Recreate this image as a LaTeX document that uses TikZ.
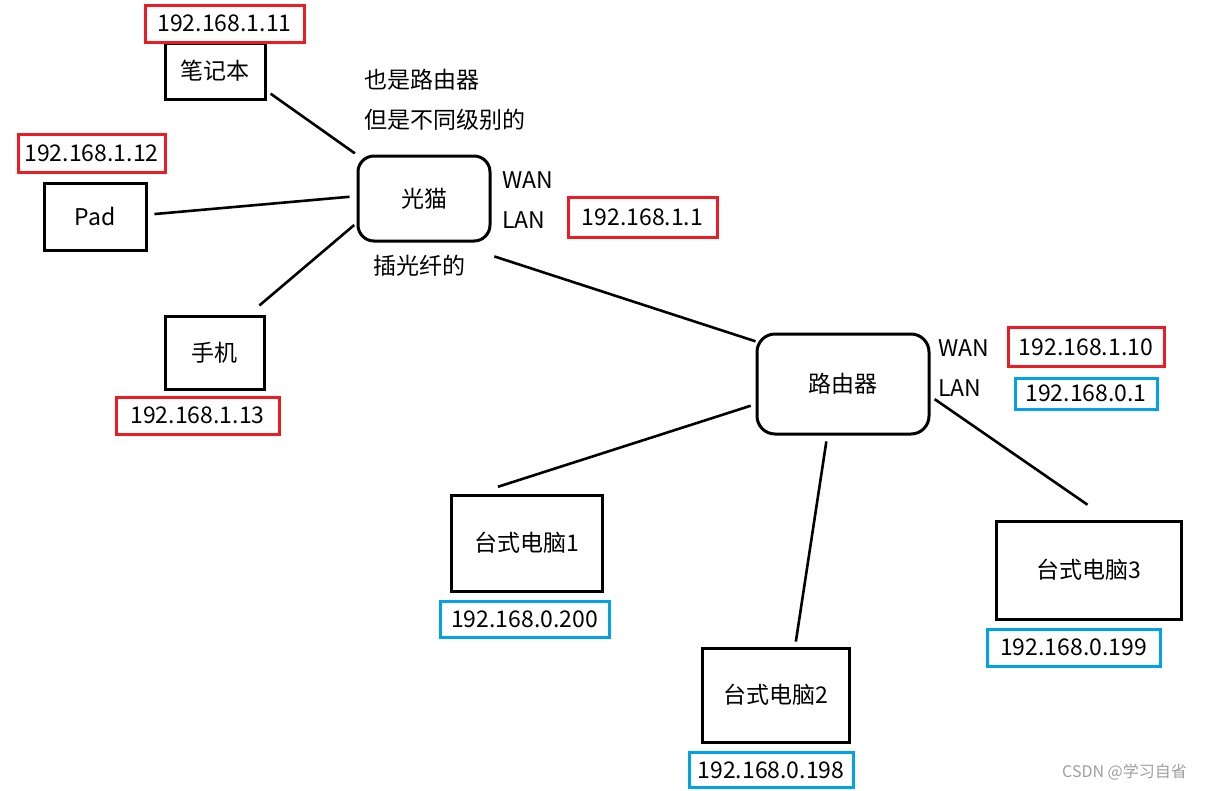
\documentclass[tikz,border=0pt]{standalone}
\usepackage{fontspec}
\setmainfont{Noto Sans CJK SC}
\definecolor{ipred}{HTML}{ED1C24}
\definecolor{ipblue}{HTML}{00A2E8}
\tikzset{
  dev/.style={draw, line width=3pt, inner sep=0pt},
  hub/.style={dev, rounded corners=16pt},
  ipbox/.style={draw=#1, line width=3pt, inner sep=0pt},
  link/.style={line width=2.6pt},
  lbl/.style={anchor=west, inner sep=0pt},
}
\begin{document}
\begin{tikzpicture}[x=1pt, y=-1pt, font=\fontsize{23}{28}\selectfont]
	\useasboundingbox (0,0) rectangle (1213,790);
	\fill[white] (0,0) rectangle (1213,790);
	% 光猫 side
	\node[hub, minimum width=132pt, minimum height=85pt] (gm) at (424,198.5) {光猫};
	\node[dev, minimum width=100pt, minimum height=56pt] (nb) at (215,71) {笔记本};
	\node[dev, minimum width=102pt, minimum height=67pt] (pad) at (95,216.5) {Pad};
	\node[dev, minimum width=99pt, minimum height=73pt] (sj) at (214.5,352.5) {手机};
	\node[lbl] (note1) at (364,80) {也是路由器};
	\node[lbl] (note2) at (364,120) {但是不同级别的};
	\node[lbl] (note3) at (373,266) {插光纤的};
	\node[lbl] (gmwan) at (502,180) {WAN};
	\node[lbl] (gmlan) at (502,220) {LAN};
	% 路由器 side
	\node[hub, minimum width=172pt, minimum height=100pt, rounded corners=18pt] (ly) at (843,384) {路由器};
	\node[lbl] (lywan) at (938,348) {WAN};
	\node[lbl] (lylan) at (938,388) {LAN};
	\node[dev, minimum width=151pt, minimum height=96pt] (tp1) at (526.5,543) {台式电脑1};
	\node[dev, minimum width=147pt, minimum height=94pt] (tp2) at (775.5,695) {台式电脑2};
	\node[dev, minimum width=185pt, minimum height=98pt] (tp3) at (1088.5,570) {台式电脑3};
	% addresses
	\foreach \n/\x/\y/\w/\h/\c/\t in {ip11/224.5/23.5/159/37/ipred/192.168.1.11,
		ip12/91.5/153/147/38/ipred/192.168.1.12,
		ip1/642.5/217/149/40/ipred/192.168.1.1,
		ip13/197.5/415.5/163/37/ipred/192.168.1.13,
		ip10/1086/347/156/39/ipred/192.168.1.10,
		ip01/1086/393.5/142/31/ipblue/192.168.0.1,
		ip200/524.5/619/169/36/ipblue/192.168.0.200,
		ip198/771/770/164/35/ipblue/192.168.0.198,
		ip199/1073.5/647.5/173/37/ipblue/192.168.0.199}
		\node[ipbox=\c, minimum width=\w pt, minimum height=\h pt] (\n) at (\x,\y) {\t};
	% connections
	\draw[link, shorten <=5pt, shorten >=2pt] (nb.-21) -- (gm.north west);
	\draw[link, shorten <=7pt, shorten >=7pt] (pad.2) -- (gm.178);
	\draw[link, shorten <=14pt, shorten >=3pt] (sj.48) -- (gm.200);
	\draw[link, shorten <=3pt] ([yshift=-13pt]gm.south east) -- (ly.154);
	\draw[link, shorten <=5pt, shorten >=22pt] (ly.193) -- (tp1.135);
	\draw[link, shorten <=6pt, shorten >=5pt] (ly.253) -- (tp2.68);
	\draw[link, shorten <=5pt, shorten >=26pt] (ly.-8) -- (tp3.68);
	\node[lbl, text=gray!75, font=\fontsize{16}{18}\selectfont] (csdn) at (1062,772) {CSDN @学习自省};
\end{tikzpicture}
\end{document}
